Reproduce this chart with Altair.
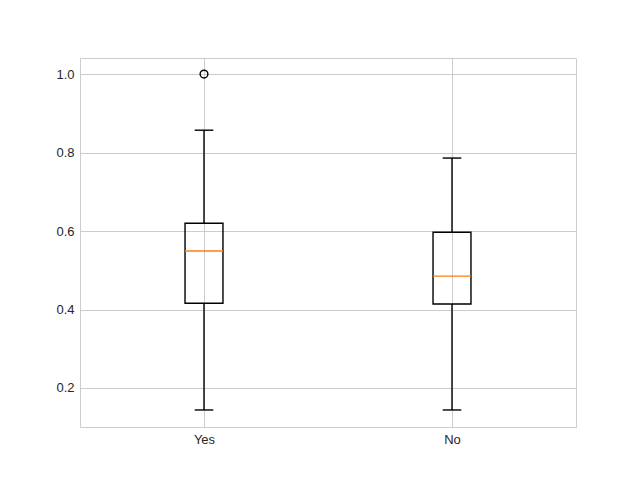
import altair as alt
import pandas as pd

groups = ["Yes", "No"]
positions = [1, 2]
whisker_low = [0.144, 0.144]
q1 = [0.416, 0.414]
median = [0.549, 0.485]
q3 = [0.620, 0.597]
whisker_high = [0.857, 0.786]

outlier_pos = [1]
outlier_val = [1.0]

df = pd.DataFrame({
    "group": groups, "pos": positions, "wlow": whisker_low, "q1": q1,
    "median": median, "q3": q3, "whigh": whisker_high,
})
df_out = pd.DataFrame({"pos": outlier_pos, "val": outlier_val})

BOX_HALF = 0.0765
CAP_HALF = 0.0375

xscale = alt.Scale(domain=[0.5, 2.5], nice=False, zero=False)
yscale = alt.Scale(domain=[0.1006, 1.041], nice=False, zero=False)

xaxis = alt.Axis(values=[1, 2], labelExpr="datum.value == 1 ? 'Yes' : 'No'",
                 title=None, grid=True)
yaxis = alt.Axis(values=[0.2, 0.4, 0.6, 0.8, 1.0], format=".1f", title=None, grid=True)

base = alt.Chart(df).transform_calculate(
    bl=f"datum.pos - {BOX_HALF}", br=f"datum.pos + {BOX_HALF}",
    cl=f"datum.pos - {CAP_HALF}", cr=f"datum.pos + {CAP_HALF}",
)

X = lambda f: alt.X(f"{f}:Q", scale=xscale, axis=xaxis)
Y = lambda f: alt.Y(f"{f}:Q", scale=yscale, axis=yaxis)

lw = 1.4
wl = base.mark_rule(color="black", strokeWidth=lw).encode(x=X("pos"), y=Y("wlow"), y2="q1:Q")
wh = base.mark_rule(color="black", strokeWidth=lw).encode(x=X("pos"), y=Y("q3"), y2="whigh:Q")
cl = base.mark_rule(color="black", strokeWidth=lw).encode(x=X("cl"), x2="cr:Q", y=Y("wlow"))
ch = base.mark_rule(color="black", strokeWidth=lw).encode(x=X("cl"), x2="cr:Q", y=Y("whigh"))
box = base.mark_rect(fill=None, fillOpacity=0, stroke="black", strokeWidth=lw).encode(
    x=X("bl"), x2="br:Q", y=Y("q1"), y2="q3:Q")
med = base.mark_rule(color="#ff7f0e", strokeWidth=lw).encode(x=X("bl"), x2="br:Q", y=Y("median"))
out = alt.Chart(df_out).mark_point(shape="circle", filled=False, color="black", opacity=1,
                                   size=60, strokeWidth=1.4).encode(x=X("pos"), y=Y("val"))

chart = alt.layer(wl, wh, cl, ch, box, med, out).properties(
    width=496, height=369,
    autosize=alt.AutoSizeParams(type="none"),
    padding={"left": 72, "top": 50, "right": 56, "bottom": 45},
    background="white",
).configure_view(stroke="#cccccc", strokeWidth=1).configure_axis(
    domain=False, ticks=False, gridColor="#cccccc", gridWidth=1,
    labelFont="Liberation Sans", labelFontSize=13, labelColor="#262626",
    labelPadding=6,
)

chart.save("out.html", embed_options={"renderer": "svg", "actions": False})
